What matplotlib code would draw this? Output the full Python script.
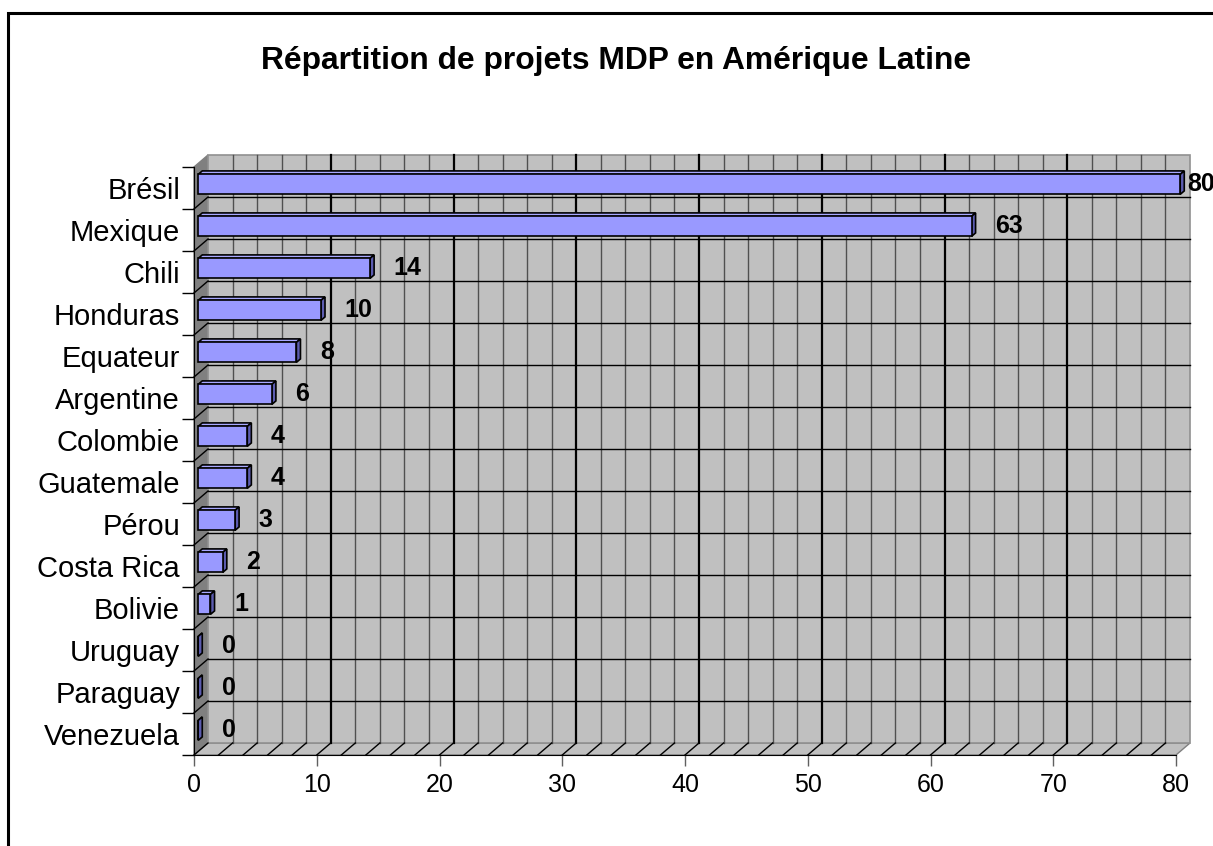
import matplotlib.pyplot as plt
from matplotlib.patches import Polygon, Rectangle

plt.rcParams['font.family'] = ['Liberation Sans', 'DejaVu Sans']

# Projets MDP par pays
pays = ['Brésil', 'Mexique', 'Chili', 'Honduras', 'Equateur', 'Argentine',
        'Colombie', 'Guatemale', 'Pérou', 'Costa Rica', 'Bolivie',
        'Uruguay', 'Paraguay', 'Venezuela']
projets = [80, 63, 14, 10, 8, 6, 4, 4, 3, 2, 1, 0, 0, 0]
x_ticks = [0, 10, 20, 30, 40, 50, 60, 70, 80]

W, H = 1213, 846
fig = plt.figure(figsize=(W / 100, H / 100), dpi=100)
ax = fig.add_axes([194 / W, (H - 755) / H, 982 / W, 588 / H])

n = len(pays)
xmax = 80
ax.set_xlim(0, xmax)
ax.set_ylim(0, n)

# profondeur du "3D" (mur du fond décalé vers le haut à droite)
DX = 14 / (982 / xmax)
DY = 12 / (588 / n)

# mur gauche, sol et mur du fond
ax.add_patch(Polygon([(0, 0), (DX, DY), (DX, n + DY), (0, n)], closed=True,
                     facecolor='#808080', edgecolor='#808080', lw=1, clip_on=False, zorder=1))
ax.add_patch(Polygon([(0, 0), (xmax, 0), (xmax + DX, DY), (DX, DY)], closed=True,
                     facecolor='#C0C0C0', edgecolor='#808080', lw=1, clip_on=False, zorder=1))
ax.add_patch(Polygon([(DX, DY), (xmax + DX, DY), (xmax + DX, n + DY), (DX, n + DY)], closed=True,
                     facecolor='#C0C0C0', edgecolor='#909090', lw=1.2, clip_on=False, zorder=1))

# quadrillage du mur du fond + diagonales du sol
for xv in range(0, xmax + 1, 2):
    major = xv % 10 == 0
    if 0 < xv < xmax:
        ax.plot([xv + DX, xv + DX], [DY, n + DY], color='black' if major else '#505050',
                lw=1.6 if major else 1.0, clip_on=False, zorder=2)
    if xv < xmax:
        ax.plot([xv, xv + DX], [0, DY], color='black', lw=1.0, clip_on=False, zorder=2)
for j in range(1, n):
    ax.plot([DX, xmax + DX], [j + DY, j + DY], color='black', lw=1.0, clip_on=False, zorder=2)
    ax.plot([0, DX], [j, j + DY], color='black', lw=1.0, clip_on=False, zorder=2)

# barres 3D
f = 0.3       # position de la barre dans la profondeur
d = 0.29      # épaisseur de la barre
h = 0.476
for i, (nom, v) in enumerate(zip(pays, projets)):
    yc = n - 0.5 - i
    x0, y0 = f * DX, yc - h / 2 + f * DY
    x1, y1 = v + f * DX, yc + h / 2 + f * DY
    ox, oy = d * DX, d * DY
    front = [(x0, y0), (x1, y0), (x1, y1), (x0, y1)]
    top = [(x0, y1), (x1, y1), (x1 + ox, y1 + oy), (x0 + ox, y1 + oy)]
    side = [(x1, y0), (x1 + ox, y0 + oy), (x1 + ox, y1 + oy), (x1, y1)]
    for pts, col in [(top, '#A8A8FF'), (side, '#5C5CB0'), (front, '#9999FF')]:
        ax.add_patch(Polygon(pts, closed=True, facecolor=col, edgecolor='black',
                             lw=1.2, joinstyle='miter', clip_on=False, zorder=3))
    # l'étiquette la plus longue reste dans la zone du graphique
    off = 2 if v == max(projets) else 14
    ax.annotate(str(v), xy=(x1 + ox, yc + f * DY), xytext=(off, 0), textcoords='offset points',
                ha='left', va='center', fontsize=18, fontweight='bold',
                annotation_clip=False, zorder=4)

# axes
for s in ['top', 'right']:
    ax.spines[s].set_visible(False)
ax.spines['left'].set_color('black')
ax.spines['bottom'].set_color('black')
ax.spines['left'].set_zorder(5)
ax.spines['bottom'].set_zorder(5)
ax.set_facecolor('none')

ax.set_xticks(x_ticks)
ax.set_xticklabels([str(t) for t in x_ticks])
ax.tick_params(axis='x', length=8, width=1, color='#606060', labelsize=18, pad=5)

ax.set_yticks([n - 0.5 - i for i in range(n)])
ax.set_yticklabels(pays)
ax.set_yticks(range(0, n + 1), minor=True)
ax.tick_params(axis='y', which='major', length=0, labelsize=21, pad=10)
ax.tick_params(axis='y', which='minor', length=8.5, width=1, color='black')

fig.text(616 / W, 1 - 61 / H, 'Répartition de projets MDP en Amérique Latine',
         ha='center', va='center', fontsize=22.9, fontweight='bold')

# cadre du graphique
fig.add_artist(Rectangle((8 / W, -0.1), 1.2, (H - 13) / H + 0.1, transform=fig.transFigure,
                         fill=False, edgecolor='black', lw=2.2))

fig.savefig('out.png', dpi=100)
